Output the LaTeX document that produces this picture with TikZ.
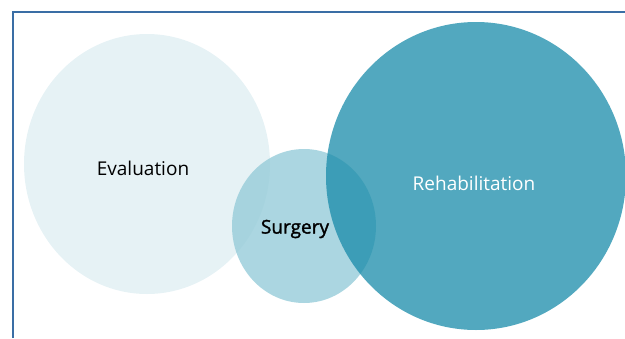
\documentclass[tikz,border=0pt]{standalone}
\usepackage{fontspec}
\setmainfont{Open Sans}
\newfontfamily\semibfont[FakeBold=1.5]{Open Sans}
\definecolor{evalc}{RGB}{230,242,245}
\definecolor{surgc}{RGB}{150,204,217}
\definecolor{rehabc}{RGB}{24,139,169}
\definecolor{framec}{RGB}{58,110,165}
\begin{document}
\begin{tikzpicture}[x=1pt,y=-1pt,
  lbl/.style={font=\fontsize{19}{23}\selectfont}]
\useasboundingbox (0,0) rectangle (625,338);
\draw[framec, line width=1.2pt] (13,338) -- (13,12) -- (625,12);
\fill[evalc] (147,164) ellipse [x radius=123, y radius=130];
\fill[surgc, opacity=0.8] (304,226) ellipse [x radius=72, y radius=77];
\fill[rehabc, opacity=0.75] (476,176) ellipse [x radius=150, y radius=154];
\node[lbl, text=black] (ev) at (143,168) {Evaluation};
\node[lbl, text=black] (su) at (295,229) {\semibfont Surgery};
\node[lbl, text=white] (re) at (474,183) {Rehabilitation};
\end{tikzpicture}
\end{document}
